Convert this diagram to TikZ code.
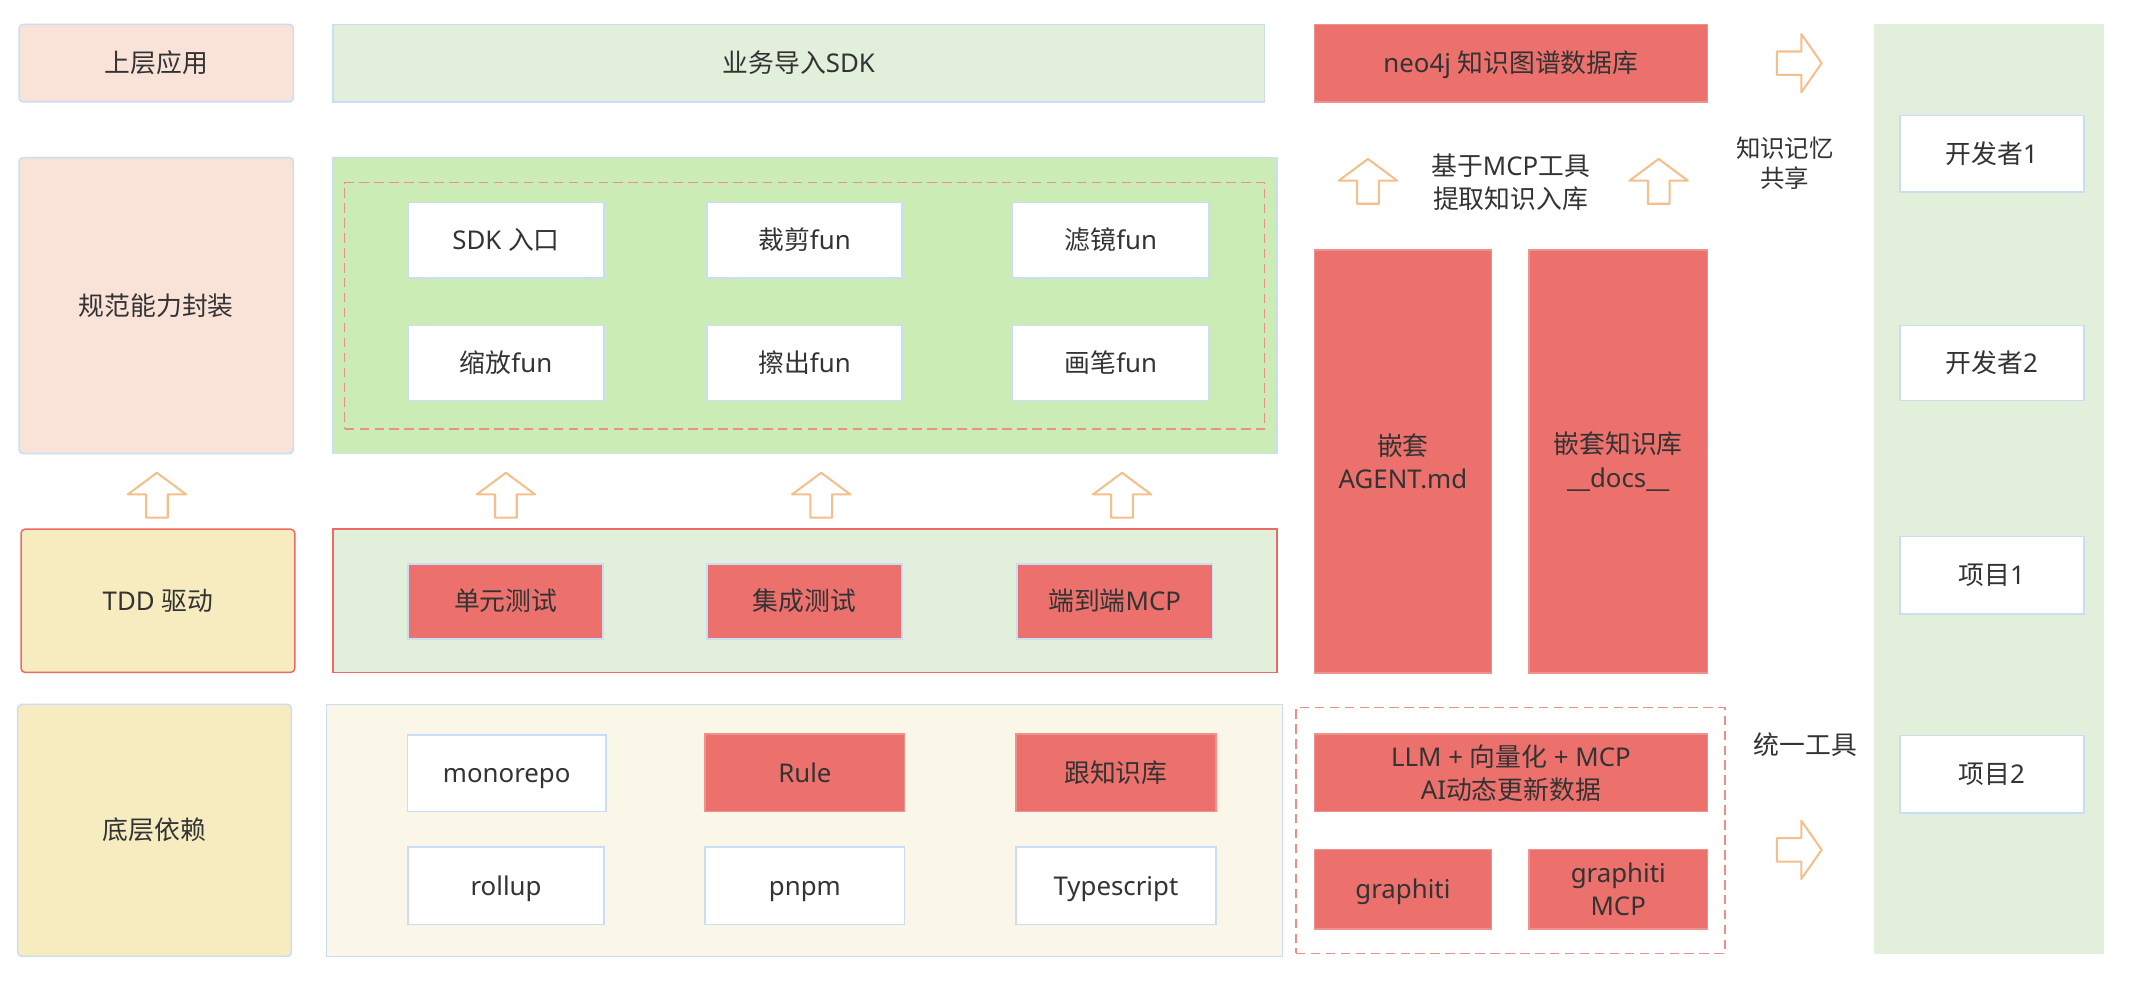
\documentclass[tikz,border=0pt]{standalone}
\usepackage{fontspec}
\setmainfont{Noto Sans}
\newfontfamily\cjk{Noto Sans CJK SC}
\newcommand\cj[1]{{\cjk #1}}
\definecolor{txt}{HTML}{333333}
\definecolor{lb}{HTML}{C9DEF5}
\definecolor{peach}{HTML}{F9E3D9}
\definecolor{ylw}{HTML}{F6ECC0}
\definecolor{lgreen}{HTML}{E1EFDB}
\definecolor{gpanel}{HTML}{CCECB5}
\definecolor{cream}{HTML}{FBF7E8}
\definecolor{red}{HTML}{EC716D}
\definecolor{redline}{HTML}{EA6B66}
\definecolor{pinkline}{HTML}{F0A09C}
\definecolor{dashc}{HTML}{EC8E8A}
\definecolor{orng}{HTML}{F5BF8C}
\newcommand\bx[7]{\node[#1, minimum width={(#5-#3)*1pt}, minimum height={(#6-#4)*1pt}] (#2) at ({(#3+#5)/2},{(#4+#6)/2}) {#7};}
\begin{document}
\begin{tikzpicture}[x=1pt,y=-1pt,
  multi/.style={draw=lb, line width=1.1pt, text=txt, inner sep=0pt, align=center, font=\fontsize{19}{24.5}\selectfont},
  base/.style={multi, text height=15pt, text depth=1pt},
  peachbox/.style={base, fill=peach, rounded corners=3pt},
  tddbox/.style={base, fill=ylw, draw=redline, rounded corners=3pt},
  ylwbox/.style={base, fill=ylw, rounded corners=3pt},
  lgbox/.style={base, fill=lgreen},
  gpbox/.style={base, fill=gpanel},
  tpbox/.style={base, fill=lgreen, draw=redline},
  crbox/.style={base, fill=cream},
  wbox/.style={base, fill=white},
  rbox/.style={base, fill=red},
  rbox2/.style={base, fill=red, draw=pinkline!70!red},
  rmulti/.style={multi, fill=red, draw=pinkline!70!red},
  rpbox/.style={base, fill=lgreen, draw=none},
  dashbox/.style={draw=dashc, dashed, dash pattern=on 7pt off 4pt, line width=1.1pt, inner sep=0pt},
  lbl/.style={text=txt, inner sep=0pt, align=center, font=\fontsize{19}{24}\selectfont},
  arr/.style={draw=orng, fill=white, line width=1.5pt, line join=round},
  uparr/.pic={\path[arr] (0,0) -- (21.5,16) -- (8,16) -- (8,33) -- (-8,33) -- (-8,16) -- (-21.5,16) -- cycle;},
  rarr/.pic={\path[arr] (0,0) -- (-15,-21.5) -- (-15,-8.6) -- (-33,-8.6) -- (-33,8.6) -- (-15,8.6) -- (-15,21.5) -- cycle;}
]
\useasboundingbox (0,0) rectangle (1568,723);
% left column
\bx{peachbox}{up}{14}{18}{216}{75}{\cj{上层应用}}
\bx{peachbox}{spec}{14}{116}{216}{334}{\cj{规范能力封装}}
\bx{tddbox}{tdd}{15.5}{389.5}{217}{495}{TDD \cj{驱动}}
\bx{ylwbox}{dep}{13}{518.5}{214.5}{704}{\cj{底层依赖}}
% second column
\bx{lgbox}{sdk}{245}{18}{931}{75}{\cj{业务导入}SDK}
\bx{gpbox}{fpanel}{245}{116}{940}{334}{}
\bx{dashbox}{fdash}{253.7}{134.5}{931}{315.8}{}
\bx{wbox}{f1}{300.5}{149}{444.5}{204.5}{SDK \cj{入口}}
\bx{wbox}{f2}{520.5}{149}{664}{204.5}{\cj{裁剪}fun}
\bx{wbox}{f3}{745.5}{149}{890}{204.5}{\cj{滤镜}fun}
\bx{wbox}{f4}{300.5}{239.5}{444.5}{295}{\cj{缩放}fun}
\bx{wbox}{f5}{520.5}{239.5}{664}{295}{\cj{擦出}fun}
\bx{wbox}{f6}{745.5}{239.5}{890}{295}{\cj{画笔}fun}
\bx{tpbox}{tests}{245}{389.5}{940}{495}{}
\bx{rbox}{t1}{300.5}{415}{444}{470.5}{\cj{单元测试}}
\bx{rbox}{t2}{520.5}{415}{664}{470.5}{\cj{集成测试}}
\bx{rbox}{t3}{748.5}{415}{892.5}{470.5}{\cj{端到端}MCP}
\bx{crbox}{bpanel}{240.5}{518.5}{944}{704}{}
\bx{wbox}{d1}{300}{541}{446}{597.5}{monorepo}
\bx{rbox2}{d2}{519}{540.5}{666}{597.5}{Rule}
\bx{rbox2}{d3}{748}{540.5}{895}{597.5}{\cj{跟知识库}}
\bx{wbox}{d4}{300.5}{623.5}{444.5}{680.5}{rollup}
\bx{wbox}{d5}{519}{623.5}{666}{680.5}{pnpm}
\bx{wbox}{d6}{748}{623.5}{895}{680.5}{Typescript}
% up arrows
\pic at (115.5,348) {uparr};
\pic at (372.4,348) {uparr};
\pic at (604.5,348) {uparr};
\pic at (826,348) {uparr};
% third column
\bx{rbox2}{neo}{967.5}{18}{1257}{75}{neo4j \cj{知识图谱数据库}}
\pic at (1007,117) {uparr};
\pic at (1221,117) {uparr};
\node[lbl] (mcpnote) at (1112,134) {\cj{基于}MCP\cj{工具}\\\cj{提取知识入库}};
\bx{rmulti}{agent}{967.5}{184}{1098}{495.5}{\cj{嵌套}\\AGENT.md}
\bx{rmulti}{docs}{1125.5}{184}{1257}{495.5}{\cj{嵌套知识库}\\\_\_docs\_\_}
\bx{dashbox}{tdash}{954}{521}{1270}{701.8}{}
\bx{rmulti}{llm}{967.5}{540.5}{1257}{597.5}{LLM + \cj{向量化} + MCP\\AI\cj{动态更新数据}}
\bx{rbox2}{gr}{967.5}{625.5}{1098}{684}{graphiti}
\bx{rmulti}{grm}{1125.5}{625.5}{1257}{684}{graphiti\\MCP}
% right arrows and labels
\pic at (1341,46.5) {rarr};
\pic at (1341,625.6) {rarr};
\node[lbl, font=\fontsize{18}{22}\selectfont] (share) at (1314,120) {\cj{知识记忆}\\\cj{共享}};
\node[lbl] (unify) at (1329,548.5) {\cj{统一工具}};
% right panel
\bx{rpbox}{users}{1379.5}{18}{1549}{702}{}
\bx{wbox}{u1}{1398.5}{85}{1534}{141.5}{\cj{开发者}1}
\bx{wbox}{u2}{1398.5}{239.5}{1534}{295}{\cj{开发者}2}
\bx{wbox}{u3}{1398.5}{395}{1534}{452}{\cj{项目}1}
\bx{wbox}{u4}{1398.5}{541.5}{1534}{598.5}{\cj{项目}2}
\end{tikzpicture}
\end{document}
